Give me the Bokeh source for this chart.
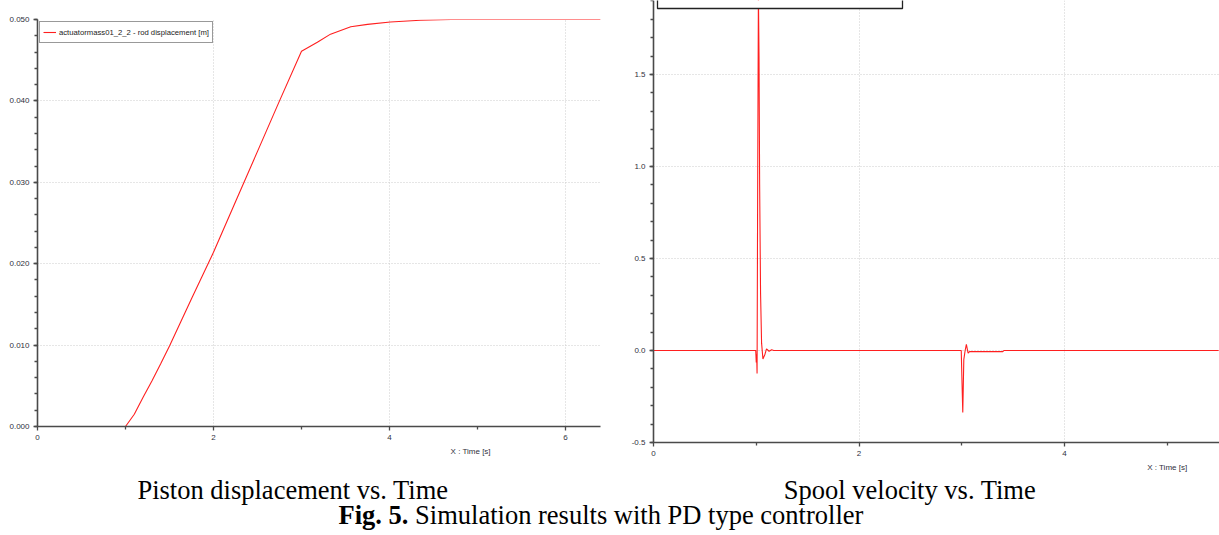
import numpy as np
from bokeh.plotting import figure
from bokeh.models import (FixedTicker, Label, BoxAnnotation, Legend, LegendItem,
                          Range1d, NumeralTickFormatter)
from bokeh.layouts import column, row
from bokeh.embed import file_html
from bokeh.resources import INLINE

# ---------------- data ----------------
# Piston (rod) displacement [m] vs time [s]
pos_t = [0.0, 1.0, 1.1, 1.2, 1.3, 1.4, 1.5, 1.75, 2.0, 2.25, 2.5, 2.75, 3.0,
         3.18, 3.33, 3.56, 3.75, 4.01, 4.35, 4.7, 5.5, 6.4]
pos_y = [0.0, 0.0, 0.0015, 0.0036, 0.0056, 0.0077, 0.0099, 0.0157, 0.0214,
         0.0276, 0.0338, 0.0400, 0.0461,
         0.0472, 0.0482, 0.0491, 0.0494, 0.0497, 0.0499, 0.0500, 0.0500, 0.0500]

# Spool velocity vs time [s]
vel_t = [0.0, 0.995, 1.0, 1.004, 1.008, 1.014, 1.021, 1.027, 1.033, 1.042,
         1.052, 1.065, 1.085, 1.10, 1.125, 1.15, 1.17,
         2.995, 3.002, 3.01, 3.02, 3.033, 3.045, 3.055, 3.062, 3.075, 3.40,
         3.41, 5.5]
vel_v = [0.0, 0.0, -0.065, -0.02, -0.125, 0.92, 1.95, 1.6, 0.9, 0.31,
         0.04, -0.046, -0.02, 0.009, -0.004, 0.004, 0.0,
         0.0, -0.16, -0.337, -0.05, 0.0, 0.033, 0.005, -0.015, -0.006, -0.006,
         0.0, 0.0]

left_x_ticks = [0, 2, 4, 6]
left_x_minor = [1, 3, 5]
left_y_ticks = [0.0, 0.01, 0.02, 0.03, 0.04, 0.05]
right_x_ticks = [0, 2, 4]
right_x_minor = [1, 3, 5]
right_y_ticks = [-0.5, 0.0, 0.5, 1.0, 1.5]

legend_label = "actuatormass01_2_2 - rod displacement [m]"
x_label = "X : Time [s]"
caption_left = "Piston displacement vs. Time"
caption_right = "Spool velocity vs. Time"
fig_bold = "Fig. 5."
fig_text = "Simulation results with PD type controller"

RED = "#ff1f1f"
AXIS = "#4a4a4a"
TICKTXT = "#30303c"
GRID = "#cdcdcd"
SERIF = "Liberation Serif"
SANS = "Liberation Sans"


def style(p):
    p.outline_line_color = None
    p.background_fill_color = "white"
    p.border_fill_color = "white"
    for ax in (p.xaxis[0], p.yaxis[0]):
        ax.axis_line_color = AXIS
        ax.axis_line_width = 1.6
        ax.major_tick_line_color = AXIS
        ax.major_tick_line_width = 1.3
        ax.major_tick_out = 4
        ax.major_tick_in = 0
        ax.minor_tick_line_color = AXIS
        ax.minor_tick_line_width = 1.3
        ax.minor_tick_out = 3
        ax.minor_tick_in = 0
        ax.major_label_text_font = SANS
        ax.major_label_text_font_size = "8px"
        ax.major_label_text_color = TICKTXT
    p.yaxis.major_label_standoff = 4
    p.xaxis.major_label_standoff = 4
    for g in (p.xgrid[0], p.ygrid[0]):
        g.grid_line_color = GRID
        g.grid_line_dash = "1 2"
        g.grid_line_width = 1


def strip(w, h):
    s = figure(width=w, height=h, output_backend="svg", toolbar_location=None,
               x_range=Range1d(0, w), y_range=Range1d(0, h), min_border=0)
    s.axis.visible = False
    s.grid.visible = False
    s.outline_line_color = None
    s.border_fill_color = "white"
    return s


# ---------------- left plot ----------------
p1 = figure(width=620, height=445, output_backend="svg", toolbar_location=None,
            x_range=Range1d(0, 563 / 88.0), y_range=Range1d(0, 0.05),
            min_border_left=37, min_border_right=20, min_border_top=19,
            min_border_bottom=19)
style(p1)
p1.xaxis.ticker = FixedTicker(ticks=left_x_ticks, minor_ticks=left_x_minor)
p1.yaxis.ticker = FixedTicker(ticks=left_y_ticks,
                              minor_ticks=list(np.round(np.arange(0, 0.0501, 0.002), 4)))
p1.yaxis.formatter = NumeralTickFormatter(format="0.000")
r1 = p1.line(pos_t, pos_y, line_color=RED, line_width=1.1)

leg = Legend(items=[LegendItem(label=legend_label, renderers=[r1])],
             location="top_left", margin=2, padding=3, spacing=0,
             border_line_color="#333333", border_line_width=1,
             background_fill_alpha=1.0,
             label_text_font=SANS, label_text_font_size="7.7px",
             label_text_color="#222222",
             label_standoff=3, glyph_width=13, glyph_height=14, label_height=14)
p1.add_layout(leg)

s1 = strip(620, 28)
s1.add_layout(Label(x=477, y=22.3, text=x_label, text_align="center",
                    text_baseline="middle", text_font=SANS,
                    text_font_size="8px", text_color=TICKTXT))

# ---------------- right plot ----------------
# the frame fills the whole panel; both axes are fixed inside it
x_end = 566 / 102.75
x_start = -33 / 102.75
y_top = 350 / 184.0
y_bot = -0.5 - 31 / 184.0
p2 = figure(width=599, height=473, output_backend="svg", toolbar_location=None,
            x_range=Range1d(x_start, x_end), y_range=Range1d(y_bot, y_top),
            min_border=0)
style(p2)
p2.xaxis.fixed_location = -0.5
p2.yaxis.fixed_location = 0
p2.xaxis.bounds = (0, x_end)
p2.yaxis.bounds = (-0.5, y_top)
p2.xgrid.cross_bounds = (-0.5, y_top)
p2.ygrid.cross_bounds = (0, x_end)
p2.xaxis.ticker = FixedTicker(ticks=right_x_ticks, minor_ticks=right_x_minor)
p2.yaxis.ticker = FixedTicker(ticks=right_y_ticks,
                              minor_ticks=list(np.round(np.arange(-0.5, 1.91, 0.1), 2)))
p2.yaxis.formatter = NumeralTickFormatter(format="0.0")
p2.line(vel_t, vel_v, line_color=RED, line_width=1.1)

# (cropped) legend box at the top of the right plot
p2.add_layout(BoxAnnotation(left=4 / 102.75, right=249 / 102.75,
                            bottom=(350 - 8) / 184.0, top=y_top + 0.05,
                            fill_color="white", fill_alpha=1.0,
                            line_color="#222222", line_alpha=1.0,
                            line_width=1.3))

p2.add_layout(Label(x=5, y=-0.5 - 25 / 184.0, text=x_label, text_align="center",
                    text_baseline="middle", text_font=SANS,
                    text_font_size="8px", text_color=TICKTXT))

# ---------------- caption strip ----------------
p3 = strip(1219, 62)
p3.add_layout(Label(x=292.5, y=46, text=caption_left, text_align="center",
                    text_baseline="alphabetic", text_font=SERIF,
                    text_font_size="26.5px", text_color="black"))
p3.add_layout(Label(x=909.5, y=46, text=caption_right, text_align="center",
                    text_baseline="alphabetic", text_font=SERIF,
                    text_font_size="26.5px", text_color="black"))
p3.add_layout(Label(x=338, y=21, text=fig_bold, text_align="left",
                    text_baseline="alphabetic", text_font=SERIF,
                    text_font_style="bold", text_font_size="26.5px",
                    text_color="black"))
p3.add_layout(Label(x=338 + 70 + 6.6, y=21, text=fig_text, text_align="left",
                    text_baseline="alphabetic", text_font=SERIF,
                    text_font_size="26.5px", text_color="black"))

layout = column(row(column(p1, s1), p2), p3)
open("out.html", "w").write(file_html(layout, INLINE))
